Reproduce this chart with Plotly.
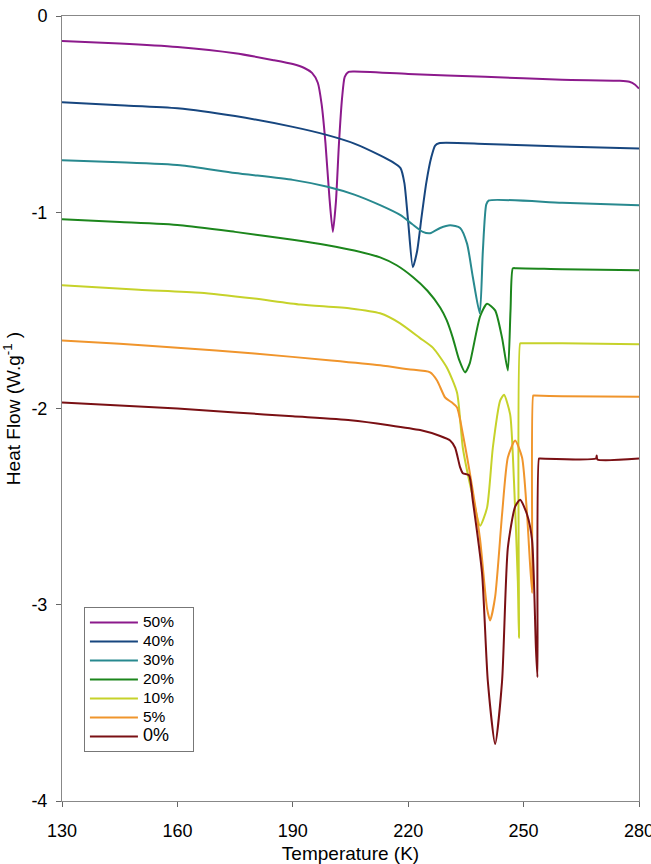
import plotly.graph_objects as go

# ---- data ----
names = ["50%", "40%", "30%", "20%", "10%", "5%", "0%"]
colors = ["#8c1a8c", "#17467f", "#28898f", "#1c861c", "#c6d22a", "#f0952c", "#7a1014"]

t50 = [130, 145, 160, 175, 185, 190, 193, 195, 196.5, 197.5, 198.5, 199.5, 200.4, 201.2, 202, 202.8,
       203.5, 204.5, 206, 220, 240, 260, 275, 277.5, 279, 280]
h50 = [-0.128, -0.140, -0.158, -0.19, -0.225, -0.245, -0.265, -0.29, -0.34, -0.45, -0.65, -0.92, -1.10,
       -0.95, -0.65, -0.42, -0.31, -0.285, -0.283, -0.295, -0.31, -0.325, -0.33, -0.335, -0.35, -0.37]

t40 = [130, 145, 160, 175, 190, 199, 206, 212.7, 216, 218, 219, 220, 221.2, 222.3, 223.5, 224.7, 226.0,
       227.0, 228, 240, 260, 280]
h40 = [-0.44, -0.455, -0.47, -0.51, -0.565, -0.607, -0.65, -0.71, -0.745, -0.775, -0.85, -1.05, -1.28,
       -1.2, -1.02, -0.85, -0.72, -0.66, -0.648, -0.652, -0.665, -0.675]

t30 = [130, 145, 160.7, 175, 190, 199, 206, 212.7, 218, 221, 223.8, 225.7, 228.3, 230.9, 233.5, 235.3,
       236.8, 238.6, 239.4, 240.3, 241, 260, 280]
h30 = [-0.735, -0.745, -0.76, -0.8, -0.835, -0.87, -0.91, -0.964, -1.015, -1.06, -1.10, -1.107, -1.08,
       -1.066, -1.08, -1.16, -1.33, -1.515, -1.2, -0.96, -0.94, -0.952, -0.964]

t20 = [130, 145, 160.7, 175, 190, 199, 206, 212.7, 217, 221.2, 225, 228.3, 230, 231.6, 233.2, 234.8, 236,
       236.8, 238.7, 240.5, 242.6, 244.4, 245.9, 246.6, 247.2, 248, 260, 280]
h20 = [-1.036, -1.05, -1.066, -1.10, -1.14, -1.168, -1.195, -1.23, -1.27, -1.33, -1.40, -1.485, -1.55,
       -1.64, -1.75, -1.816, -1.77, -1.70, -1.53, -1.466, -1.50, -1.64, -1.806, -1.5, -1.286, -1.285,
       -1.29, -1.296]

t10 = [130, 150, 166, 180, 192, 205, 212.7, 217.9, 223, 226.4, 230, 232.7, 234.2, 236.8, 238.7, 240.5,
       242, 243.9, 244.9, 246.5, 247.5, 248.5, 248.8, 249.1, 249.4, 260, 280]
h10 = [-1.372, -1.395, -1.41, -1.44, -1.47, -1.49, -1.515, -1.566, -1.64, -1.69, -1.79, -1.92, -2.20,
       -2.45, -2.597, -2.505, -2.20, -1.96, -1.93, -2.03, -2.37, -2.88, -3.17, -1.668, -1.668, -1.668,
       -1.672]

t05 = [130, 145, 160, 180, 200, 212.7, 220, 225.7, 227.5, 229.6, 231.4, 232.7, 234.2, 236.8, 238.7,
       240.5, 241.3, 242.6, 244.4, 245.9, 247.8, 249.6, 250.9, 252.2, 252.5, 252.8, 260, 280]
h05 = [-1.653, -1.67, -1.69, -1.72, -1.755, -1.78, -1.80, -1.816, -1.857, -1.944, -1.97, -1.995, -2.13,
       -2.42, -2.67, -3.02, -3.08, -2.96, -2.54, -2.25, -2.163, -2.25, -2.54, -2.94, -1.934, -1.934,
       -1.937, -1.94]

t00 = [130, 145, 160, 175, 190, 205, 215, 223.1, 228.3, 230.9, 232.2, 233.5, 234.2, 235.8, 236.8, 239.2,
       240.7, 242.6, 244.4, 245.9, 247.8, 249.1, 250.9, 252.2, 253.2, 253.6, 254.0, 254.3, 268.8, 269.0,
       269.2, 280]
h00 = [-1.97, -1.985, -2.0, -2.02, -2.04, -2.06, -2.085, -2.11, -2.14, -2.163, -2.20, -2.30, -2.33,
       -2.34, -2.47, -2.84, -3.39, -3.71, -3.39, -2.71, -2.50, -2.465, -2.54, -2.67, -3.22, -3.37,
       -2.255, -2.255, -2.255, -2.24, -2.26, -2.255]

series_t = [t50, t40, t30, t20, t10, t05, t00]
series_h = [h50, h40, h30, h20, h10, h05, h00]

x_ticks = [130, 160, 190, 220, 250, 280]
y_ticks = [0, -1, -2, -3, -4]

FONT = "Liberation Sans, Arial, sans-serif"
NB = "\u00a0"

fig = go.Figure()
for n, c, tx, hy in zip(names, colors, series_t, series_h):
    size = 18 if n == "0%" else 15.5
    label = "<span style='font-size:%spx'>%s</span>%s" % (size, n, NB * 4)
    fig.add_trace(go.Scatter(x=tx, y=hy, mode="lines", name=label,
                             line=dict(color=c, width=2, shape="spline", smoothing=0.6)))

fig.update_layout(
    width=651, height=864,
    margin=dict(l=62, r=12, t=16, b=63, autoexpand=False),
    paper_bgcolor="white", plot_bgcolor="white",
    font=dict(family=FONT, size=18, color="black"),
    showlegend=True,
    legend=dict(x=0.038, y=0.247, xanchor="left", yanchor="top",
                bordercolor="#777777", borderwidth=1, bgcolor="white",
                font=dict(family=FONT, size=12, color="black"),
                itemwidth=48, tracegroupgap=0),
)
fig.update_xaxes(range=[130, 280], tickvals=x_ticks, ticktext=[str(v) for v in x_ticks],
                 ticks="outside", ticklen=5, tickcolor="#666666", automargin=False,
                 ticklabeloverflow="allow",
                 showline=True, linecolor="#888888", linewidth=1, mirror=True,
                 showgrid=False, zeroline=False, ticklabelstandoff=8,
                 title=dict(text="Temperature (K)", standoff=8, font=dict(size=19)))
fig.update_yaxes(range=[-4, 0], tickvals=y_ticks, ticktext=[str(v) for v in y_ticks],
                 ticks="outside", ticklen=5, tickcolor="#666666", automargin=False,
                 ticklabeloverflow="allow",
                 showline=True, linecolor="#888888", linewidth=1, mirror=True,
                 showgrid=False, zeroline=False, ticklabelstandoff=5,
                 title=dict(text="Heat Flow (W.g<sup>-1</sup> )", standoff=8, font=dict(size=19)))

fig.write_html("out.html")
